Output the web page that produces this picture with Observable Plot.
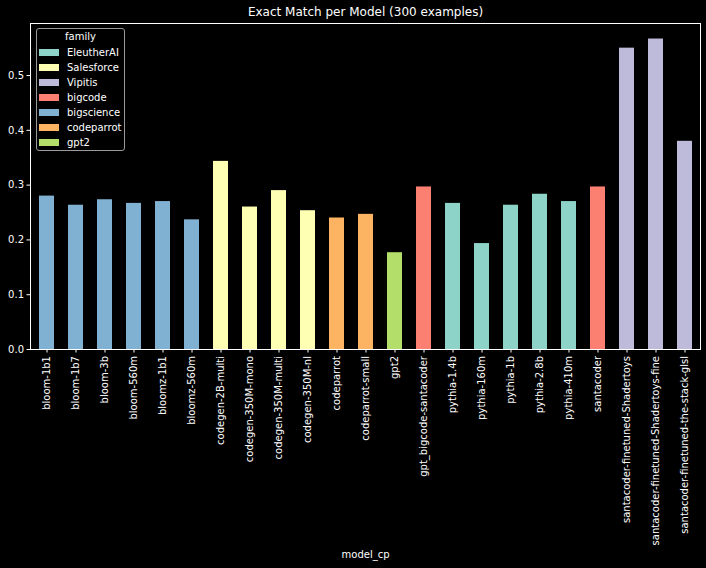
<!DOCTYPE html>
<html>
<head>
<meta charset="utf-8">
<script src="https://cdn.jsdelivr.net/npm/d3@7"></script>
<script src="https://cdn.jsdelivr.net/npm/@observablehq/plot@0.6"></script>
<style>
  html, body { margin: 0; padding: 0; background: #000; }
  #wrap { position: relative; width: 706px; height: 568px; background: #000; }
  #legend {
    position: absolute; left: 36px; top: 28px; width: 89px; height: 123px;
    border: 1px solid #9a9a9a; border-radius: 3px; background: #000;
    font-family: "DejaVu Sans", sans-serif; font-size: 10px; color: #fff; box-sizing: border-box;
  }
  #legend .title { position: absolute; left: 0; right: 0; top: 2px; text-align: center; }
  #legend .row { position: absolute; left: 2px; height: 12px; display: flex; align-items: center; }
  #legend .sw { width: 20px; height: 7px; margin-right: 8px; }
</style>
</head>
<body>
<div id="wrap"></div>
<script>
const models = ["bloom-1b1","bloom-1b7","bloom-3b","bloom-560m","bloomz-1b1","bloomz-560m",
  "codegen-2B-multi","codegen-350M-mono","codegen-350M-multi","codegen-350M-nl",
  "codeparrot","codeparrot-small","gpt2","gpt_bigcode-santacoder",
  "pythia-1.4b","pythia-160m","pythia-1b","pythia-2.8b","pythia-410m","santacoder",
  "santacoder-finetuned-Shadertoys","santacoder-finetuned-Shadertoys-fine","santacoder-finetuned-the-stack-glsl"];
const families = ["bigscience","bigscience","bigscience","bigscience","bigscience","bigscience",
  "Salesforce","Salesforce","Salesforce","Salesforce",
  "codeparrot","codeparrot","gpt2","bigcode",
  "EleutherAI","EleutherAI","EleutherAI","EleutherAI","EleutherAI","bigcode",
  "Vipitis","Vipitis","Vipitis"];
const exactMatch = [84,79,82,80,81,71,103,78,87,76,72,74,53,89,80,58,79,85,81,89,165,170,114].map(v => v/300);
const familyOrder = ["EleutherAI","Salesforce","Vipitis","bigcode","bigscience","codeparrot","gpt2"];
const familyColors = ["#8dd3c7","#ffffb3","#bebada","#fb8072","#80b1d3","#fdb462","#b3de69"];
const yTicks = [0, 0.1, 0.2, 0.3, 0.4, 0.5];

const data = models.map((m, i) => ({model: m, family: families[i], value: exactMatch[i]}));

const plot = Plot.plot({
  width: 706,
  height: 568,
  marginTop: 23,
  marginLeft: 30,
  marginRight: 6,
  marginBottom: 219,
  style: {background: "#000", color: "#fff", fontFamily: "DejaVu Sans, sans-serif", fontSize: "10px"},
  x: {domain: models, paddingInner: 0.5, paddingOuter: 0.25},
  y: {domain: [0, 0.595]},
  color: {domain: familyOrder, range: familyColors},
  marks: [
    Plot.barY(data, {x: "model", y: "value", fill: "family"}),
    Plot.axisY({ticks: yTicks, tickFormat: d3.format(".1f"), tickSize: 3.5, tickPadding: 3, label: null, stroke: "#fff"}),
    Plot.axisX({tickRotate: -90, tickSize: 3.5, tickPadding: 3, label: "model_cp", labelAnchor: "center", labelArrow: "none", labelOffset: 208, stroke: "#fff"}),
    Plot.frame({stroke: "#fff", strokeWidth: 1}),
    Plot.text(["Exact Match per Model (300 examples)"], {frameAnchor: "top", lineAnchor: "middle", dy: -11, fontSize: 12, fill: "#fff"})
  ]
});
const wrap = document.getElementById("wrap");
wrap.appendChild(plot);

const legend = document.createElement("div");
legend.id = "legend";
legend.innerHTML = `<div class="title">family</div>`;
const color = plot.scale("color");
familyOrder.forEach((f, i) => {
  const row = document.createElement("div");
  row.className = "row";
  row.style.top = (17 + i * 15) + "px";
  row.innerHTML = `<div class="sw" style="background:${color.apply(f)}"></div><span>${f}</span>`;
  legend.appendChild(row);
});
wrap.appendChild(legend);
</script>
</body>
</html>
